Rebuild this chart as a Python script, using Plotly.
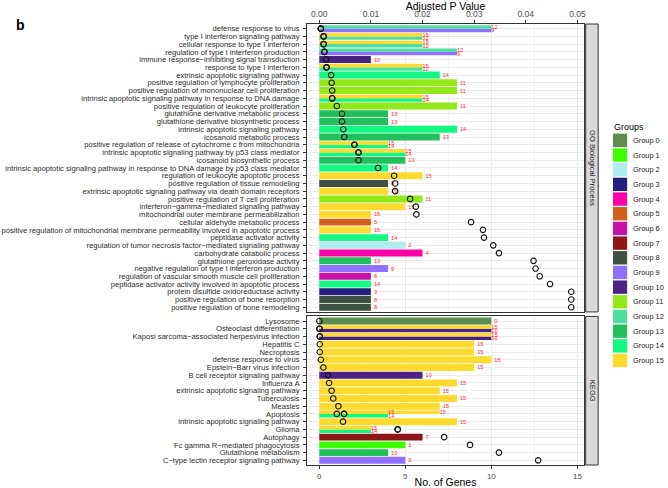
import plotly.graph_objects as go

# ---------------- data ----------------
go_terms = [
    "defense response to virus", "defense response to virus",
    "type I interferon signaling pathway", "type I interferon signaling pathway",
    "cellular response to type I interferon", "cellular response to type I interferon",
    "regulation of type I interferon production", "regulation of type I interferon production",
    "immune response−inhibiting signal transduction",
    "response to type I interferon", "response to type I interferon",
    "extrinsic apoptotic signaling pathway",
    "positive regulation of lymphocyte proliferation",
    "positive regulation of mononuclear cell proliferation",
    "intrinsic apoptotic signaling pathway in response to DNA damage",
    "intrinsic apoptotic signaling pathway in response to DNA damage",
    "positive regulation of leukocyte proliferation",
    "glutathione derivative metabolic process",
    "glutathione derivative biosynthetic process",
    "intrinsic apoptotic signaling pathway",
    "icosanoid metabolic process",
    "positive regulation of release of cytochrome c from mitochondria",
    "positive regulation of release of cytochrome c from mitochondria",
    "intrinsic apoptotic signaling pathway by p53 class mediator",
    "intrinsic apoptotic signaling pathway by p53 class mediator",
    "icosanoid biosynthetic process",
    "intrinsic apoptotic signaling pathway in response to DNA damage by p53 class mediator",
    "regulation of leukocyte apoptotic process",
    "positive regulation of tissue remodeling",
    "extrinsic apoptotic signaling pathway via death domain receptors",
    "positive regulation of T cell proliferation",
    "interferon−gamma−mediated signaling pathway",
    "mitochondrial outer membrane permeabilization",
    "cellular aldehyde metabolic process",
    "positive regulation of mitochondrial membrane permeability involved in apoptotic process",
    "peptidase activator activity",
    "regulation of tumor necrosis factor−mediated signaling pathway",
    "carbohydrate catabolic process",
    "glutathione peroxidase activity",
    "negative regulation of type I interferon production",
    "regulation of vascular smooth muscle cell proliferation",
    "peptidase activator activity involved in apoptotic process",
    "protein disulfide oxidoreductase activity",
    "positive regulation of bone resorption",
    "positive regulation of bone remodeling",
]
go_groups = [12, 9, 15, 12, 15, 12, 12, 9, 10, 15, 12, 14, 11, 11, 15, 14, 11, 13, 13, 14, 13,
             15, 14, 15, 14, 13, 14, 15, 8, 15, 11, 15, 15, 5, 15, 14, 2, 4, 13, 9, 6, 14, 3, 8, 8]
go_counts = [10, 10, 6, 6, 6, 6, 8, 8, 3, 6, 6, 7, 8, 8, 6, 6, 8, 4, 4, 8, 7,
             4, 4, 5, 5, 5, 4, 6, 4, 4, 6, 5, 3, 3, 3, 4, 5, 6, 3, 4, 3, 3, 3, 3, 3]
go_padj = [0.0003, 0.0003, 0.00085, 0.00085, 0.00085, 0.00085, 0.0010, 0.0010, 0.0013,
           0.0014, 0.0014, 0.0023, 0.0024, 0.0025, 0.0025, 0.0025, 0.0034, 0.0044, 0.0044,
           0.00465, 0.00485, 0.0068, 0.0068, 0.0076, 0.0076, 0.0076, 0.0114, 0.0145, 0.0147,
           0.0147, 0.0176, 0.0187, 0.0188, 0.0294, 0.0317, 0.0319, 0.0337, 0.0348, 0.0415,
           0.0419, 0.0427, 0.0447, 0.0488, 0.0488, 0.0488]

kegg_terms = [
    "Lysosome",
    "Osteoclast differentiation", "Osteoclast differentiation",
    "Kaposi sarcoma−associated herpesvirus infection", "Kaposi sarcoma−associated herpesvirus infection",
    "Hepatitis C",
    "Necroptosis",
    "defense response to virus",
    "Epstein−Barr virus infection",
    "B cell receptor signaling pathway",
    "Influenza A",
    "extrinsic apoptotic signaling pathway",
    "Tuberculosis",
    "Measles",
    "Apoptosis", "Apoptosis", "Apoptosis",
    "intrinsic apoptotic signaling pathway",
    "Glioma", "Glioma",
    "Autophagy",
    "Fc gamma R−mediated phagocytosis",
    "Glutathione metabolism",
    "C−type lectin receptor signaling pathway",
]
kegg_groups = [0, 15, 10, 15, 10, 15, 15, 15, 15, 10, 15, 15, 15, 15, 15, 15, 14, 15, 15, 14, 7, 1, 13, 9]
kegg_counts = [10, 10, 10, 10, 10, 9, 9, 10, 9, 6, 8, 7, 8, 7, 7, 4, 4, 8, 3, 3, 6, 5, 4, 5]
kegg_padj = [0.00002, 0.00004, 0.00004, 0.0001, 0.0001, 0.0001, 0.0001, 0.0003, 0.0008,
             0.0017, 0.0019, 0.0024, 0.0027, 0.0037, 0.0034, 0.0048, 0.0048, 0.0046,
             0.0152, 0.0152, 0.0242, 0.0292, 0.0348, 0.0424]

group_ids = list(range(16))
group_labels = ["Group %d" % g for g in group_ids]
group_colors = ["#5E8C4F", "#3CFF00", "#AEEEEE", "#241E7E", "#FF00A8", "#D2601A",
                "#C710A5", "#8E1518", "#3E5042", "#8F70FF", "#4A2282", "#93E81A",
                "#4EDDA0", "#22C05C", "#12F882", "#FDDA30"]

panel_labels = ["GO Biological Process", "KEGG"]
x_title = "No. of Genes"
x2_title = "Adjusted P Value"

# ---------------- layout geometry ----------------
W, H = 668, 488
L, R, T, B = 307, 83.7, 23.7, 22.7
plot_w = W - L - R
plot_h = H - T - B
GAP_PX = 4.5

def px_x(px):
    return (px - L) / plot_w

def px_y(py):
    return 1 - (py - T) / plot_h

def unique(seq):
    out = []
    for s in seq:
        if s not in out:
            out.append(s)
    return out

go_rows = unique(go_terms)
kegg_rows = unique(kegg_terms)
u1 = len(go_rows) - 1 + 1.2
u2 = len(kegg_rows) - 1 + 1.2
unit_px = (plot_h - GAP_PX) / (u1 + u2)
dom_kegg = [0, u2 * unit_px / plot_h]
dom_go = [1 - u1 * unit_px / plot_h, 1]

GENE_RANGE = [-0.713, 15.383]
P_RANGE = [GENE_RANGE[0] / 300.0, GENE_RANGE[1] / 300.0]

FONT = "Liberation Sans, Arial, sans-serif"
GRID = "#EBEBEB"
BORDER = "#333333"

fig = go.Figure()


def dodge(terms, groups):
    """ggplot-like dodge: split each row among its distinct groups, highest group on top."""
    per_row = {}
    for t, g in zip(terms, groups):
        per_row.setdefault(t, set()).add(g)
    offs, wids = [], []
    for t, g in zip(terms, groups):
        gs = sorted(per_row[t], reverse=True)
        n = len(gs)
        w = 0.9 / n
        k = gs.index(g)
        offs.append(-0.45 + k * w)
        wids.append(w)
    return offs, wids


def add_panel(terms, groups, counts, padj, xa, ya, xpa):
    offs, wids = dodge(terms, groups)
    for g in group_ids:
        idx = [i for i, gg in enumerate(groups) if gg == g]
        if not idx:
            continue
        fig.add_trace(go.Bar(
            orientation="h",
            x=[counts[i] for i in idx],
            y=[terms[i] for i in idx],
            offset=[offs[i] for i in idx],
            width=[wids[i] for i in idx],
            marker=dict(color=group_colors[g], line=dict(width=0)),
            text=[str(g)] * len(idx),
            textposition="outside",
            constraintext="none",
            cliponaxis=False,
            textfont=dict(color="#FF2A2A", size=5.6, family=FONT),
            xaxis=xa, yaxis=ya,
            showlegend=False,
            hoverinfo="x+y",
        ))
    fig.add_trace(go.Scatter(
        x=padj, y=terms, mode="markers",
        marker=dict(symbol="circle-open", size=5.5, color="#111111", line=dict(width=1.1)),
        xaxis=xpa, yaxis=ya, showlegend=False, cliponaxis=False,
    ))


add_panel(go_terms, go_groups, go_counts, go_padj, "x", "y", "x2")
add_panel(kegg_terms, kegg_groups, kegg_counts, kegg_padj, "x3", "y2", "x4")

gene_axis = dict(
    range=GENE_RANGE, tick0=0, dtick=5, showgrid=True, gridcolor=GRID, gridwidth=1,
    minor=dict(dtick=2.5, tick0=0, showgrid=True, gridcolor="#F3F3F3", gridwidth=0.6),
    zeroline=False, showline=True, mirror=True, linecolor=BORDER, linewidth=1,
    automargin=False, fixedrange=True,
)
y_common = dict(
    type="category", categoryorder="array", tickmode="array", ticks="outside", ticklen=3,
    tickwidth=1, tickcolor=BORDER, tickfont=dict(size=7.6, color="#2B2B2B", family=FONT),
    showgrid=True, gridcolor=GRID, gridwidth=1, zeroline=False, showline=True,
    mirror=True, linecolor=BORDER, linewidth=1, automargin=False, ticklabelstandoff=2,
)

fig.update_layout(
    template="none",
    width=W, height=H,
    margin=dict(l=L, r=R, t=T, b=B, pad=0),
    paper_bgcolor="white", plot_bgcolor="white",
    font=dict(family=FONT, color="#000000"),
    barmode="overlay",
    showlegend=False,
    xaxis=dict(domain=[0, 1], anchor="y", showticklabels=False, ticks="", **gene_axis),
    xaxis2=dict(
        overlaying="x", anchor="y", side="top", range=P_RANGE, tick0=0, dtick=0.01,
        tickformat=".2f", ticks="outside", ticklen=3, tickwidth=1, tickcolor=BORDER,
        tickfont=dict(size=8.5, color="#4D4D4D", family=FONT), showgrid=False, zeroline=False,
        showline=False, automargin=False,
        title=dict(text=x2_title, font=dict(size=10.5, color="#000000", family=FONT), standoff=1),
    ),
    xaxis3=dict(
        domain=[0, 1], anchor="y2", ticks="outside", ticklen=3, tickwidth=1, tickcolor=BORDER,
        tickfont=dict(size=8, color="#4D4D4D", family=FONT),
        title=dict(text=x_title, font=dict(size=10.5, color="#000000", family=FONT), standoff=0),
        **gene_axis,
    ),
    xaxis4=dict(overlaying="x3", anchor="y2", range=P_RANGE, visible=False),
    yaxis=dict(domain=dom_go, anchor="x", categoryarray=go_rows, tickvals=go_rows,
               ticktext=go_rows, range=[len(go_rows) - 0.4, -0.6], **y_common),
    yaxis2=dict(domain=dom_kegg, anchor="x3", categoryarray=kegg_rows, tickvals=kegg_rows,
                ticktext=kegg_rows, range=[len(kegg_rows) - 0.4, -0.6], **y_common),
)

shapes = []
annotations = []

# facet strips
for lab, dom in zip(panel_labels, [dom_go, dom_kegg]):
    shapes.append(dict(type="rect", xref="paper", yref="paper",
                       x0=px_x(586), x1=px_x(598.5), y0=dom[0], y1=dom[1],
                       fillcolor="#D9D9D9", line=dict(color=BORDER, width=1), layer="above"))
    annotations.append(dict(text=lab, xref="paper", yref="paper",
                            x=(px_x(586) + px_x(598.5)) / 2, y=(dom[0] + dom[1]) / 2,
                            textangle=90, showarrow=False, xanchor="center", yanchor="middle",
                            font=dict(size=7.6, color="#1A1A1A", family=FONT)))

# legend (ggplot-style keys)
annotations.append(dict(text="Groups", xref="paper", yref="paper", x=px_x(612), y=px_y(126.5),
                        xanchor="left", yanchor="middle", showarrow=False,
                        font=dict(size=9, color="#000000", family=FONT)))
for i, (lab, col) in enumerate(zip(group_labels, group_colors)):
    cy = 140.2 + 14.7 * i
    shapes.append(dict(type="rect", xref="paper", yref="paper",
                       x0=px_x(613.3), x1=px_x(627.5), y0=px_y(cy + 6.7), y1=px_y(cy - 6.7),
                       fillcolor=col, line=dict(width=0)))
    annotations.append(dict(text=lab, xref="paper", yref="paper", x=px_x(631.5), y=px_y(cy),
                            xanchor="left", yanchor="middle", showarrow=False,
                            font=dict(size=7.4, color="#1A1A1A", family=FONT)))

# panel tag
annotations.append(dict(text="<b>b</b>", xref="paper", yref="paper", x=px_x(20), y=px_y(24.5),
                        xanchor="center", yanchor="middle", showarrow=False,
                        font=dict(size=14, color="#000000", family=FONT)))

fig.update_layout(shapes=shapes, annotations=annotations)

fig.write_html(
    "out.html",
    config={"displayModeBar": False},
    post_script=(
        "document.body.style.margin='0px';"
        "document.querySelectorAll('.main-svg').forEach(function(s){s.style.opacity='0.999';});"
    ),
)
